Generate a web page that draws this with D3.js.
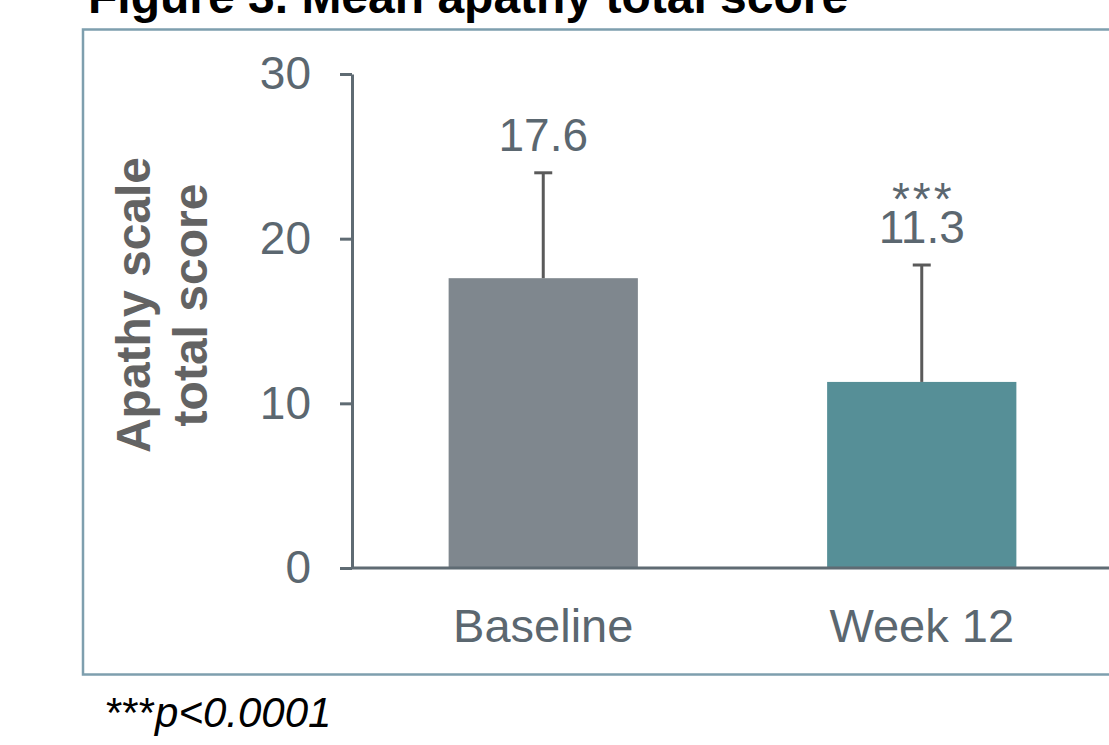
<!DOCTYPE html>
<html>
<head>
<meta charset="utf-8">
<script src="https://cdn.jsdelivr.net/npm/d3@7/dist/d3.min.js"></script>
<style>
  html, body { margin: 0; padding: 0; background: #ffffff; }
  svg { display: block; font-family: "Liberation Sans", Arial, sans-serif; }
</style>
</head>
<body>
<svg id="chart" width="1109" height="745"></svg>
<script>
// Mean apathy total score at baseline and week 12, with upper SD whiskers
const categories = ["Baseline", "Week 12"];
const meanScores = [17.6, 11.3];
const upperErrors = [24.0, 18.4];
const significance = ["", "***"];
const yTicks = [0, 10, 20, 30];
const barColors = ["#7f878e", "#568f97"];

const svg = d3.select("#chart");

// Title (partly above the visible area)
svg.append("text")
  .attr("x", 88).attr("y", 13)
  .attr("font-size", 48).attr("font-weight", "bold").attr("fill", "#000")
  .text("Figure 3. Mean apathy total score");

// Framed panel
svg.append("rect")
  .attr("x", 83).attr("y", 29.5)
  .attr("width", 1060).attr("height", 645)
  .attr("fill", "none").attr("stroke", "#7e9fae").attr("stroke-width", 2.5);

const y = d3.scaleLinear().domain([0, 30]).range([568, 74]);
const x = d3.scaleBand().domain(categories).range([354, 1111])
  .paddingInner(0.5).paddingOuter(0.25);

const axisColor = "#5f6b73";
const textColor = "#5b6770";

// Bars
svg.selectAll("rect.bar").data(categories).enter().append("rect")
  .attr("class", "bar")
  .attr("x", d => x(d))
  .attr("width", x.bandwidth())
  .attr("y", (d, i) => y(meanScores[i]))
  .attr("height", (d, i) => y(0) - y(meanScores[i]))
  .attr("fill", (d, i) => barColors[i]);

// Error whiskers
const cap = 9;
const eb = svg.selectAll("g.err").data(categories).enter().append("g").attr("class", "err")
  .attr("stroke", "#5a5a5a").attr("stroke-width", 3);
eb.append("line")
  .attr("x1", d => x(d) + x.bandwidth() / 2).attr("x2", d => x(d) + x.bandwidth() / 2)
  .attr("y1", (d, i) => y(meanScores[i])).attr("y2", (d, i) => y(upperErrors[i]));
eb.append("line")
  .attr("x1", d => x(d) + x.bandwidth() / 2 - cap).attr("x2", d => x(d) + x.bandwidth() / 2 + cap)
  .attr("y1", (d, i) => y(upperErrors[i])).attr("y2", (d, i) => y(upperErrors[i]));

// Value labels above whiskers
svg.selectAll("text.val").data(categories).enter().append("text")
  .attr("class", "val")
  .attr("x", d => x(d) + x.bandwidth() / 2)
  .attr("y", (d, i) => y(upperErrors[i]) - 22)
  .attr("text-anchor", "middle").attr("font-size", 46).attr("fill", textColor)
  .text((d, i) => meanScores[i].toFixed(1));

// Significance marker
svg.selectAll("text.sig").data(categories).enter().append("text")
  .attr("class", "sig")
  .attr("x", d => x(d) + x.bandwidth() / 2 + 1.5)
  .attr("y", (d, i) => y(upperErrors[i]) - 50)
  .attr("text-anchor", "middle").attr("font-size", 46).attr("fill", textColor)
  .attr("letter-spacing", 3)
  .text((d, i) => significance[i]);

// Y axis
const yAxis = svg.append("g")
  .attr("transform", "translate(352,0)")
  .call(d3.axisLeft(y).tickValues(yTicks).tickSize(12).tickSizeOuter(0).tickPadding(29));
yAxis.select(".domain").attr("stroke", axisColor).attr("stroke-width", 3);
yAxis.selectAll(".tick line").attr("stroke", axisColor).attr("stroke-width", 3);
yAxis.selectAll(".tick text").attr("font-size", 46).attr("fill", textColor)
  .attr("font-family", "Liberation Sans, Arial, sans-serif");

// X axis
const xAxis = svg.append("g")
  .attr("transform", "translate(0,568)")
  .call(d3.axisBottom(x).tickSize(0).tickSizeOuter(0).tickPadding(0));
xAxis.select(".domain").attr("stroke", axisColor).attr("stroke-width", 3)
  .attr("d", "M352,0H1109");
xAxis.selectAll(".tick text").attr("font-size", 47).attr("fill", textColor)
  .attr("font-family", "Liberation Sans, Arial, sans-serif")
  .attr("dy", null).attr("y", 74);

// Y axis title
const yTitle = svg.append("text")
  .attr("transform", "translate(150,305) rotate(-90)")
  .attr("text-anchor", "middle").attr("font-size", 48).attr("font-weight", "bold")
  .attr("fill", "#636363");
yTitle.append("tspan").attr("x", 0).attr("y", 0).text("Apathy scale");
yTitle.append("tspan").attr("x", 0).attr("y", 57).text("total score");

// Footnote
const foot = svg.append("text").attr("x", 106).attr("y", 727)
  .attr("font-size", 42).attr("fill", "#000");
foot.append("tspan").text("***");
foot.append("tspan").attr("font-style", "italic").text("p<0.0001");
</script>
</body>
</html>
